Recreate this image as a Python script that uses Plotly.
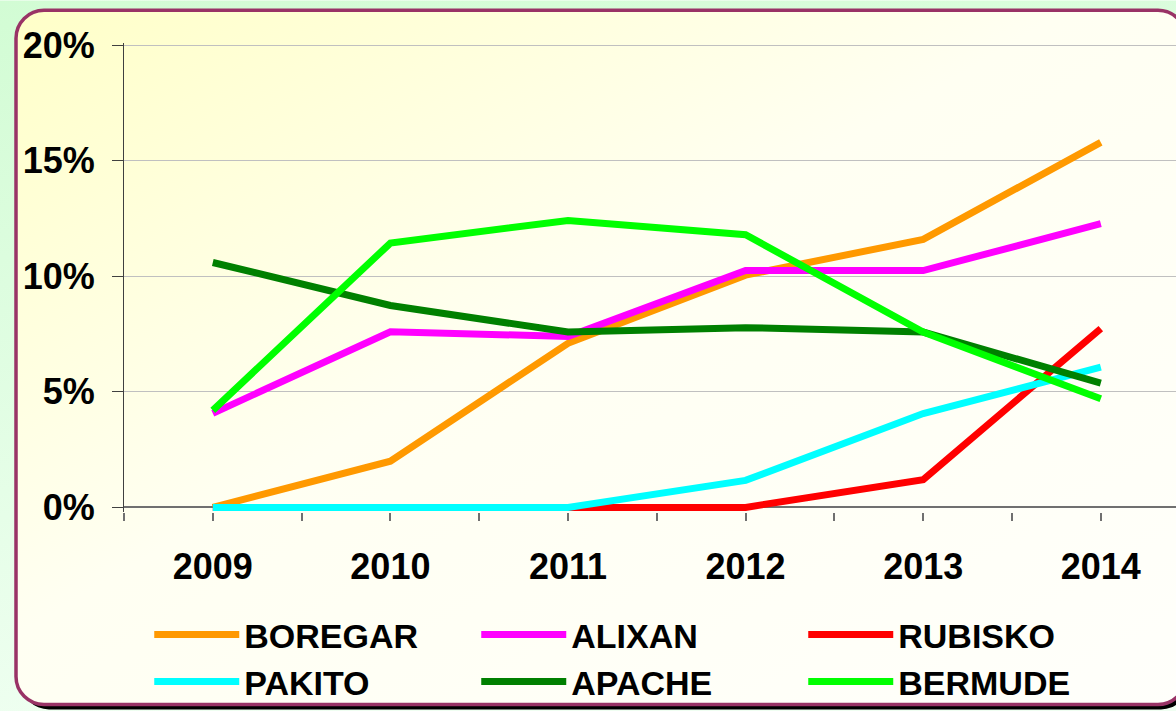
import base64
import plotly.graph_objects as go

years = [2009, 2010, 2011, 2012, 2013, 2014]
series_names = ["BOREGAR", "ALIXAN", "RUBISKO", "PAKITO", "APACHE", "BERMUDE"]
boregar = [0.0, 2.0, 7.1, 10.05, 11.6, 15.8]
alixan = [4.07, 7.6, 7.4, 10.25, 10.25, 12.28]
rubisko = [0.0, 0.0, 0.0, 0.0, 1.2, 7.74]
pakito = [0.0, 0.0, 0.0, 1.17, 4.06, 6.07]
apache = [10.6, 8.74, 7.59, 7.78, 7.59, 5.38]
bermude = [4.2, 11.44, 12.42, 11.8, 7.59, 4.7]
colors = ["#FF9900", "#FF00FF", "#FF0000", "#00FFFF", "#008000", "#00FF00"]
y_ticks = [0, 5, 10, 15, 20]

W, H = 1176, 711
L, R, T, B = 124, 0, 42.7, 199.4
pw, ph = W - L - R, H - T - B

svg = f'''<svg xmlns="http://www.w3.org/2000/svg" width="{W}" height="{H}" viewBox="0 0 {W} {H}" preserveAspectRatio="none">
<defs>
<linearGradient id="outer" x1="0" y1="0" x2="0.3" y2="1">
<stop offset="0" stop-color="#d2fcd4"/><stop offset="1" stop-color="#f0fff2"/></linearGradient>
<linearGradient id="inner" x1="0" y1="0" x2="1" y2="1">
<stop offset="0" stop-color="#ffffc8"/><stop offset="0.45" stop-color="#fffff2"/><stop offset="1" stop-color="#fffffb"/></linearGradient>
</defs>
<rect x="0" y="0" width="{W}" height="{H}" fill="url(#outer)"/>
<rect x="21" y="15" width="1168" height="694" rx="28" ry="28" fill="#000000"/>
<rect x="16" y="10" width="1170" height="694" rx="28" ry="28" fill="url(#inner)" stroke="#993366" stroke-width="3.5"/>
</svg>'''
src = "data:image/svg+xml;base64," + base64.b64encode(svg.encode()).decode()

fig = go.Figure()
for name, vals, col in zip(series_names, [boregar, alixan, rubisko, pakito, apache, bermude], colors):
    fig.add_trace(go.Scatter(x=years, y=vals, name=name, mode="lines",
                             line=dict(color=col, width=7), hoverinfo="skip"))

half_ticks = [years[0] - 0.5 + 0.5 * i for i in range(2 * len(years) + 1)]
half_text = [str(int(v)) if float(v).is_integer() else "" for v in half_ticks]

fig.update_layout(
    width=W, height=H,
    margin=dict(l=L, r=R, t=T, b=B, autoexpand=False),
    paper_bgcolor="#ffffff", plot_bgcolor="rgba(0,0,0,0)",
    font=dict(family="Liberation Sans", color="#000000"),
    showlegend=True,
    legend=dict(orientation="h", x=0.024, y=-0.2, xanchor="left", yanchor="top",
                font=dict(size=34, family="Liberation Sans", color="#000000", weight="bold"),
                entrywidth=227, entrywidthmode="pixels", bgcolor="rgba(0,0,0,0)",
                itemwidth=85, tracegroupgap=0),
    images=[dict(source=src, xref="paper", yref="paper", x=-L / pw, y=1 + T / ph,
                 sizex=W / pw, sizey=H / ph, sizing="stretch", layer="below",
                 xanchor="left", yanchor="top")],
)
fig.update_xaxes(range=[years[0] - 0.5, years[0] - 0.5 + pw / 177.6],
                 tickmode="array", tickvals=half_ticks, ticktext=half_text,
                 ticks="outside", ticklen=8, tickcolor="#707070", tickwidth=1.5,
                 showline=False, showgrid=False, zeroline=False,
                 ticklabelstandoff=15,
                 tickfont=dict(size=36, family="Liberation Sans", color="#000000", weight="bold"))
fig.update_yaxes(range=[-0.2, 20.1], tickmode="array", tickvals=y_ticks,
                 ticktext=[f"{v}%" for v in y_ticks],
                 ticks="outside", ticklen=11, tickcolor="#404040", tickwidth=1.2,
                 showline=True, linecolor="#404040", linewidth=1.2,
                 showgrid=True, gridcolor="#c0c0c0", gridwidth=1.3,
                 zeroline=True, zerolinecolor="#707070", zerolinewidth=1.5,
                 ticklabelstandoff=10,
                 tickfont=dict(size=36, family="Liberation Sans", color="#000000", weight="bold"))

fig.write_html("out.html", config={"displayModeBar": False},
               post_script="document.body.style.margin='0';document.body.style.overflow='hidden';")
